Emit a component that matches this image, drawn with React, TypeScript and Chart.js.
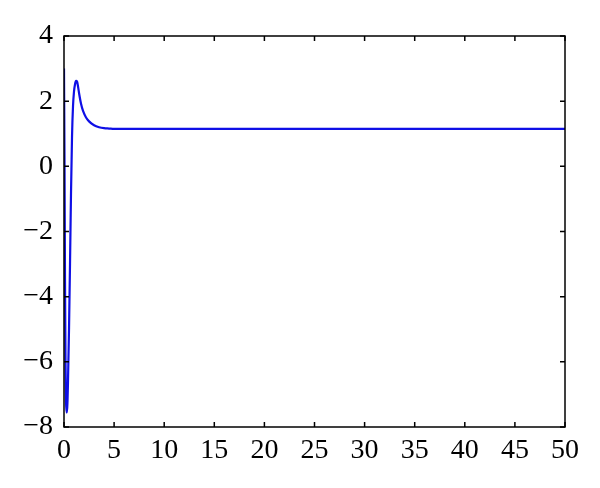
import React, { useEffect, useRef } from "react";
import { Chart, registerables } from "chart.js";

Chart.register(...registerables);

const timeValues = [0, 0.05, 0.1, 0.15, 0.2, 0.25, 0.3, 0.35, 0.4, 0.5, 0.6, 0.7, 0.8, 0.9, 1.0, 1.1, 1.2, 1.3, 1.4, 1.5, 1.7, 1.9, 2.2, 2.5, 3, 3.5, 4, 4.5, 5, 6, 8, 10, 15, 20, 30, 40, 50];
const responseValues = [3.0, 0.2, -3.5, -6.0, -7.2, -7.55, -7.55, -7.2, -6.6, -5.0, -3.0, -0.8, 0.9, 1.85, 2.3, 2.52, 2.62, 2.6, 2.45, 2.25, 1.92, 1.7, 1.5, 1.38, 1.26, 1.2, 1.17, 1.16, 1.15, 1.15, 1.15, 1.15, 1.15, 1.15, 1.15, 1.15, 1.15];
const xTicks = [0, 5, 10, 15, 20, 25, 30, 35, 40, 45, 50];
const yTicks = [-8, -6, -4, -2, 0, 2, 4];

const fmt = (v: number) => (v < 0 ? "\u2212" + Math.abs(v) : String(v));

const boxPlugin = {
  id: "boxTicks",
  afterDatasetsDraw(chart: any) {
    const { ctx, chartArea, scales } = chart;
    const { left, right, top, bottom } = chartArea;
    ctx.save();
    ctx.strokeStyle = "#000";
    ctx.lineWidth = 1.5;
    ctx.strokeRect(left, top, right - left, bottom - top);
    const len = 5;
    ctx.beginPath();
    xTicks.forEach((t) => {
      const px = scales.x.getPixelForValue(t);
      ctx.moveTo(px, bottom);
      ctx.lineTo(px, bottom - len);
      ctx.moveTo(px, top);
      ctx.lineTo(px, top + len);
    });
    yTicks.forEach((t) => {
      const py = scales.y.getPixelForValue(t);
      ctx.moveTo(left, py);
      ctx.lineTo(left + len, py);
      ctx.moveTo(right, py);
      ctx.lineTo(right - len, py);
    });
    ctx.stroke();
    ctx.restore();
  },
};

export default function App() {
  const ref = useRef<HTMLCanvasElement | null>(null);
  useEffect(() => {
    if (!ref.current) return;
    const data = timeValues.map((t, i) => ({ x: t, y: responseValues[i] }));
    const font = { family: "'Liberation Serif', serif", size: 28 };
    const chart = new Chart(ref.current, {
      type: "line",
      data: {
        datasets: [
          {
            data,
            borderColor: "rgb(15,15,230)",
            borderWidth: 2.2,
            pointRadius: 0,
            cubicInterpolationMode: "monotone",
            fill: false,
          },
        ],
      },
      options: {
        animation: false,
        responsive: false,
        maintainAspectRatio: false,
        layout: { padding: { left: 0, top: 36, right: 35, bottom: 0 } },
        plugins: { legend: { display: false }, tooltip: { enabled: false } },
        scales: {
          x: {
            type: "linear",
            min: 0,
            max: 50,
            grid: { display: false, drawTicks: false },
            border: { display: false },
            afterBuildTicks: (s: any) => {
              s.ticks = xTicks.map((v) => ({ value: v }));
            },
            afterFit: (s: any) => {
              s.height = 61;
            },
            ticks: { color: "#000", font, padding: 7, maxRotation: 0, callback: (v: any) => fmt(Number(v)) },
          },
          y: {
            type: "linear",
            min: -8,
            max: 4,
            grid: { display: false, drawTicks: false },
            border: { display: false },
            afterBuildTicks: (s: any) => {
              s.ticks = yTicks.map((v) => ({ value: v }));
            },
            afterFit: (s: any) => {
              s.width = 64;
            },
            ticks: { color: "#000", font, padding: 11, callback: (v: any) => fmt(Number(v)) },
          },
        },
      },
      plugins: [boxPlugin],
    } as any);
    return () => chart.destroy();
  }, []);
  return (
    <div style={{ position: "absolute", left: 0, top: 0, width: 600, height: 488, background: "#fff" }}>
      <canvas ref={ref} width={600} height={488} style={{ width: 600, height: 488 }} />
    </div>
  );
}
